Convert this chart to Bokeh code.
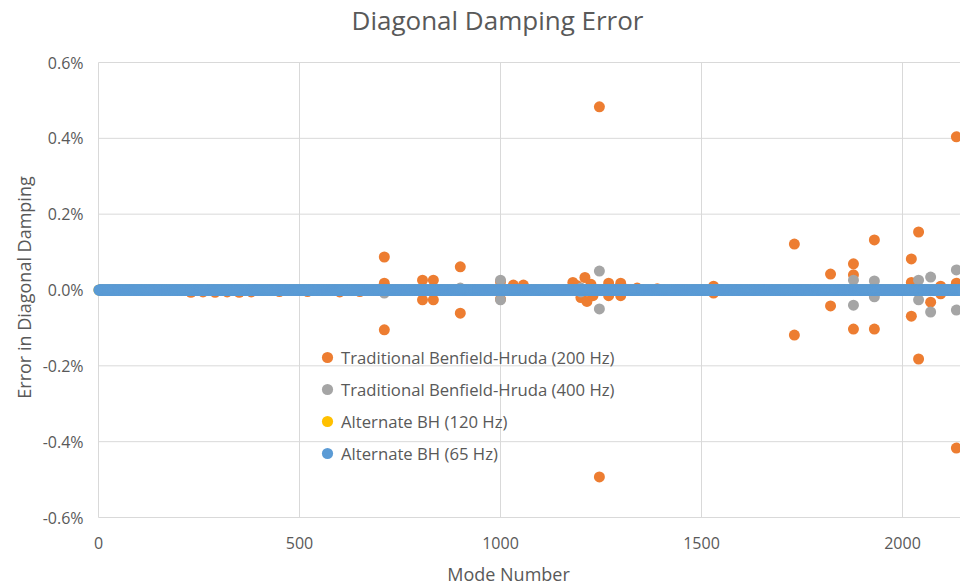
import math
from bokeh.plotting import figure
from bokeh.models import Legend, LegendItem, Range1d, Label
from bokeh.core.properties import value
from bokeh.embed import file_html
from bokeh.resources import INLINE

# ---- data (mode number, error as fraction) ----
modes_all = list(range(1, 2151))
alt65_err = [0.0] * len(modes_all)          # Alternate BH (65 Hz): all ~0
alt120_modes = list(range(1, 2151, 3))
alt120_err = [0.0] * len(alt120_modes)      # Alternate BH (120 Hz): hidden under 65 Hz

tbh200_modes = [230, 260, 290, 320, 350, 380, 450, 520, 600, 650,
                711, 711, 711, 806, 806, 833, 833, 900, 900, 1000, 1000, 1032, 1057,
                1180, 1190, 1200, 1210, 1215, 1225, 1230, 1246, 1246,
                1269, 1269, 1299, 1299, 1340, 1390, 1530, 1530,
                1731, 1731, 1821, 1821, 1878, 1878, 1878, 1930, 1930,
                2022, 2022, 2022, 2040, 2040, 2070, 2095, 2095, 2134, 2134, 2134]
tbh200_err = [-0.00006, -0.00005, -0.00006, -0.00005, -0.00006, -0.00005, -0.00004, -0.00004, -0.00005, -0.00004,
              0.00087, 0.00018, -0.00105, 0.00026, -0.00026, 0.00026, -0.00026, 0.00061, -0.00061, 0.00022, -0.00024, 0.00013, 0.00013,
              0.00020, 0.00012, -0.00020, 0.00033, -0.00030, 0.00015, -0.00015, 0.00483, -0.00493,
              0.00018, -0.00015, 0.00018, -0.00015, 0.00005, 0.00003, 0.00010, -0.00008,
              0.00121, -0.00119, 0.00042, -0.00042, 0.00069, 0.00040, -0.00103, 0.00132, -0.00103,
              0.00082, -0.00069, 0.00020, 0.00153, -0.00182, -0.00032, 0.00010, -0.00010, 0.00404, -0.00417, 0.00018]

tbh400_modes = [711, 900, 1000, 1000, 1200, 1200, 1246, 1246, 1878, 1878, 1930, 1930,
                2040, 2040, 2070, 2070, 2134, 2134]
tbh400_err = [-0.00008, 0.00005, 0.00026, -0.00026, 0.00005, -0.00005, 0.00050, -0.00050, 0.00026, -0.00040, 0.00024, -0.00018,
              0.00026, -0.00026, 0.00034, -0.00058, 0.00053, -0.00053]

x_ticks = [0, 500, 1000, 1500, 2000]
y_ticks = [-0.006, -0.004, -0.002, 0.0, 0.002, 0.004, 0.006]
x_tick_labels = [str(t) for t in x_ticks]
y_tick_labels = [f"{t * 100:.1f}%" for t in y_ticks]

TITLE = "Diagonal Damping Error"
XLABEL = "Mode Number"
YLABEL = "Error in Diagonal Damping"

ORANGE = "#ED7D31"
GRAY = "#A5A5A5"
YELLOW = "#FFC000"
BLUE = "#5B9BD5"
TXT = "#595959"
GRID = "#D9D9D9"
FONT = "Open Sans"

# ---- layout: the frame covers the whole canvas; plotting area is 98..960 x 62..517 px ----
W, H = 960, 586
LEFT, TOP, BOTTOM = 98, 62, 517
Y_LO, Y_HI = y_ticks[0], y_ticks[-1]
PX_X = 804 / 2000.0                       # px per mode
PX_Y = (BOTTOM - TOP) / (Y_HI - Y_LO)     # px per unit error


def dx(px):
    return (px - LEFT) / PX_X


def dy(py):
    return Y_HI - (py - TOP) / PX_Y


p = figure(frame_width=W, frame_height=H, output_backend="svg", toolbar_location=None,
           x_range=Range1d(dx(0), dx(W)), y_range=Range1d(dy(H), dy(0)),
           x_axis_location=None, y_axis_location=None,
           min_border_left=0, min_border_right=0, min_border_top=0, min_border_bottom=0)
p.outline_line_color = None
p.background_fill_color = "white"
p.border_fill_color = "white"
p.grid.visible = False

# gridlines over the plotting area
p.segment(x0=x_ticks, y0=[Y_LO] * len(x_ticks), x1=x_ticks, y1=[Y_HI] * len(x_ticks),
          line_color=GRID, line_width=1)
p.segment(x0=[0] * len(y_ticks), y0=y_ticks, x1=[dx(W)] * len(y_ticks), y1=y_ticks,
          line_color=GRID, line_width=1)

# series
r1 = p.scatter(tbh200_modes, tbh200_err, size=11, color=ORANGE, line_color=None)
r2 = p.scatter(tbh400_modes, tbh400_err, size=11, color=GRAY, line_color=None)
r3 = p.scatter(alt120_modes, alt120_err, size=11, color=YELLOW, line_color=None)
r4 = p.scatter(modes_all, alt65_err, size=11, color=BLUE, line_color=None)

# tick labels
p.text(x=[dx(83)] * len(y_ticks), y=y_ticks, text=y_tick_labels,
       text_align="right", text_baseline="middle",
       text_font=value(FONT), text_font_size=value("16px"), text_color=TXT)
p.text(x=x_ticks, y=[dy(542)] * len(x_ticks), text=x_tick_labels,
       text_align="center", text_baseline="middle",
       text_font=value(FONT), text_font_size=value("16px"), text_color=TXT)

# titles
p.add_layout(Label(x=dx(497), y=dy(19), text=TITLE,
                   text_align="center", text_baseline="middle",
                   text_font=FONT, text_font_size="26px", text_color=TXT))
p.add_layout(Label(x=dx(508), y=dy(573), text=XLABEL,
                   text_align="center", text_baseline="middle",
                   text_font=FONT, text_font_size="18px", text_color=TXT))
p.add_layout(Label(x=dx(23), y=dy(287), text=YLABEL, angle=math.pi / 2,
                   text_align="center", text_baseline="middle",
                   text_font=FONT, text_font_size="18px", text_color=TXT))

legend = Legend(items=[
    LegendItem(label="Traditional Benfield-Hruda (200 Hz)", renderers=[r1]),
    LegendItem(label="Traditional Benfield-Hruda (400 Hz)", renderers=[r2]),
    LegendItem(label="Alternate BH (120 Hz)", renderers=[r3]),
    LegendItem(label="Alternate BH (65 Hz)", renderers=[r4]),
], location=(LEFT + 215, H - (BOTTOM - 48)))
legend.background_fill_alpha = 0
legend.border_line_color = None
legend.padding = 0
legend.margin = 0
legend.spacing = 0
legend.glyph_width = 28
legend.glyph_height = 32
legend.label_height = 32
legend.label_standoff = -5
legend.label_text_font = FONT
legend.label_text_font_size = "16.7px"
legend.label_text_color = TXT
p.add_layout(legend, "center")

open("out.html", "w").write(file_html(p, INLINE))
